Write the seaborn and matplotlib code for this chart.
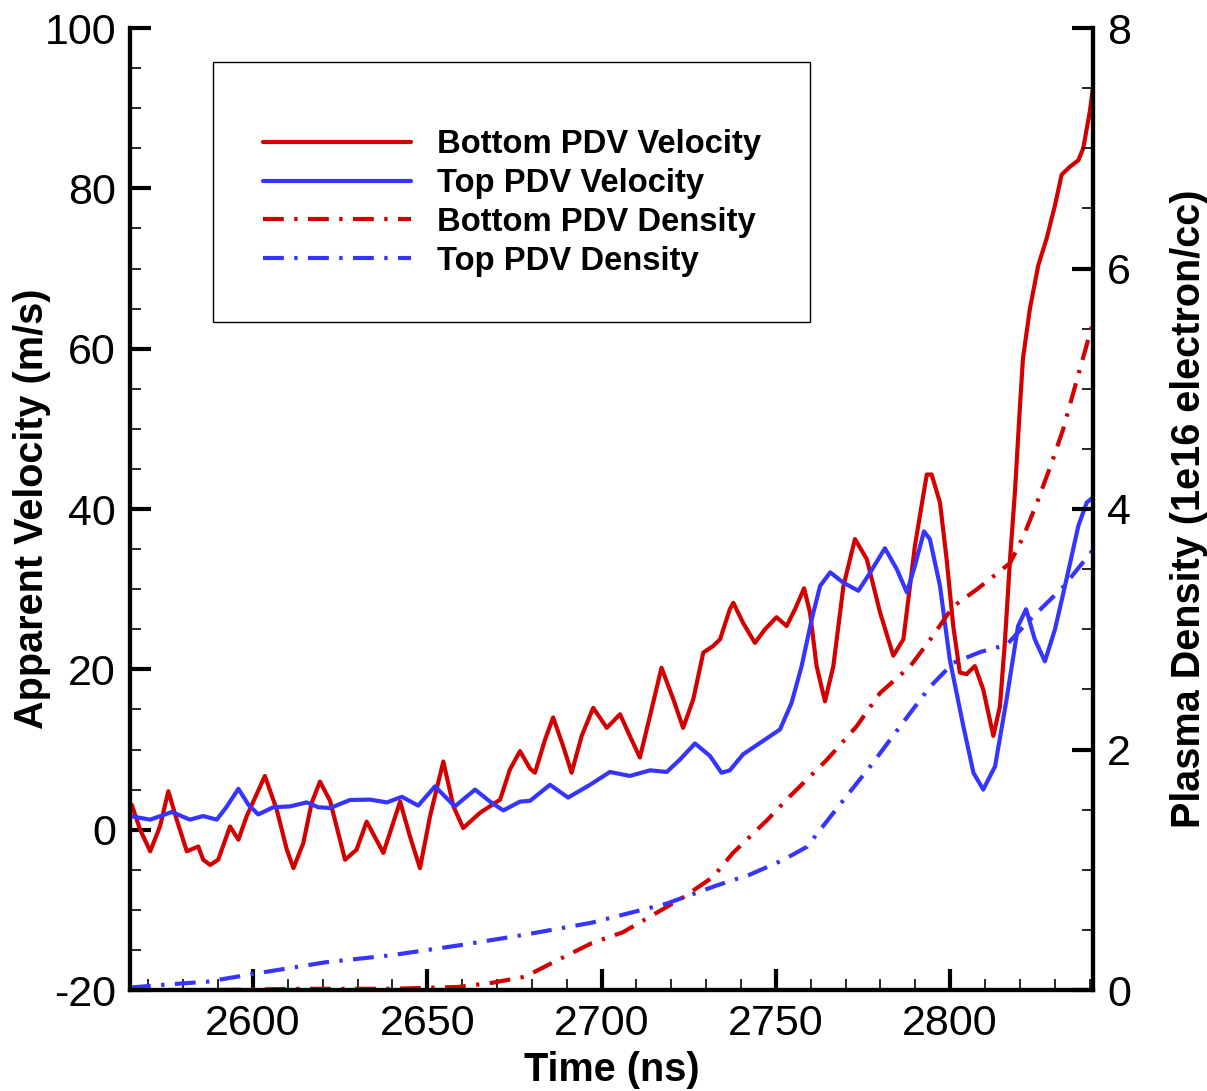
import numpy as np
import seaborn as sns
from matplotlib import pyplot as plt
from matplotlib.patches import Rectangle
from matplotlib.ticker import MultipleLocator

# Bottom PDV velocity (m/s)
bot_vel_t = [2565.2, 2567.6, 2570.5, 2573.3, 2575.7, 2578.1, 2581.0, 2584.3, 2585.7, 2587.7,
             2590.0, 2593.4, 2595.8, 2598.2, 2603.4, 2606.8, 2609.7, 2611.6, 2614.4, 2616.8,
             2619.2, 2622.1, 2626.4, 2629.7, 2632.6, 2637.4, 2642.2, 2645.0, 2647.9, 2650.8,
             2654.6, 2657.5, 2660.3, 2665.1, 2670.9, 2673.7, 2676.6, 2679.5, 2680.9, 2683.8,
             2686.1, 2689.0, 2691.4, 2694.3, 2697.6, 2701.5, 2705.3, 2708.1, 2711.0, 2713.9,
             2717.2, 2720.6, 2723.4, 2726.3, 2729.2, 2732.0, 2734.0, 2736.8, 2737.8, 2740.6,
             2744.0, 2746.9, 2750.2, 2753.1, 2755.5, 2758.1, 2759.8, 2761.7, 2764.1, 2766.5,
             2769.4, 2772.7, 2776.1, 2779.9, 2783.7, 2786.6, 2789.9, 2793.3, 2794.7, 2797.1,
             2799.0, 2800.9, 2802.8, 2804.7, 2807.1, 2809.5, 2812.4, 2814.3, 2815.7, 2817.2,
             2818.6, 2820.0, 2820.9, 2822.9, 2825.3, 2827.7, 2830.1, 2832.0, 2834.4, 2836.8,
             2838.2, 2840.1, 2841.2]
bot_vel = [3.1, 0.0, -2.7, 0.4, 4.8, 1.25, -2.7, -2.1, -3.75, -4.4,
           -3.75, 0.4, -1.25, 1.7, 6.7, 2.5, -2.5, -4.8, -1.7, 3.3,
           6.0, 3.6, -3.75, -2.5, 1.0, -2.9, 3.5, -0.8, -4.8, 1.7,
           8.5, 2.9, 0.2, 2.1, 3.75, 7.5, 9.8, 7.6, 7.1, 11.25,
           14.0, 10.4, 7.1, 11.7, 15.2, 12.7, 14.4, 11.7, 9.0, 14.2,
           20.2, 16.25, 12.7, 16.25, 22.1, 22.9, 23.75, 27.5, 28.3, 25.8,
           23.3, 25.0, 26.5, 25.4, 27.5, 30.1, 27.1, 20.4, 16.0, 20.4,
           30.4, 36.25, 33.75, 27.1, 21.7, 23.75, 35.4, 44.3, 44.3, 40.8,
           33.75, 25.4, 19.6, 19.4, 20.4, 17.5, 11.7, 15.4, 23.3, 33.75,
           42.1, 52.5, 58.75, 65.0, 70.4, 73.75, 77.9, 81.7, 82.7, 83.5,
           85.0, 89.6, 93.3]

# Top PDV velocity (m/s)
top_vel_t = [2564.7, 2570.5, 2576.7, 2581.9, 2585.7, 2589.6, 2592.5, 2595.8, 2598.7, 2601.5,
             2605.8, 2610.6, 2615.4, 2618.7, 2622.1, 2627.8, 2633.6, 2638.4, 2642.7, 2647.4,
             2652.2, 2657.9, 2663.7, 2668.0, 2671.8, 2676.6, 2679.5, 2685.2, 2690.4, 2696.7,
             2702.4, 2708.1, 2713.9, 2718.7, 2722.5, 2726.8, 2731.1, 2734.4, 2736.8, 2740.6,
             2745.4, 2751.2, 2754.5, 2757.4, 2760.3, 2762.7, 2765.6, 2769.4, 2773.7, 2777.1,
             2781.3, 2784.7, 2787.6, 2789.9, 2792.5, 2794.2, 2797.1, 2799.9, 2803.8, 2806.7,
             2809.5, 2812.9, 2816.2, 2819.5, 2821.8, 2824.3, 2827.2, 2830.1, 2833.4, 2836.8,
             2839.2, 2841.1]
top_vel = [1.7, 1.25, 2.2, 1.25, 1.7, 1.25, 2.9, 5.1, 3.1, 1.9,
           2.8, 2.9, 3.4, 2.8, 2.7, 3.7, 3.75, 3.4, 4.1, 3.0,
           5.4, 2.9, 5.0, 3.5, 2.4, 3.5, 3.6, 5.6, 4.0, 5.6,
           7.2, 6.7, 7.4, 7.2, 8.75, 10.75, 9.2, 7.1, 7.4, 9.4,
           10.8, 12.5, 15.8, 20.4, 26.25, 30.4, 32.1, 30.8, 29.8, 32.1,
           35.1, 32.5, 29.6, 32.9, 37.2, 36.25, 30.4, 21.25, 12.9, 7.1,
           5.0, 7.9, 16.25, 25.4, 27.5, 23.75, 21.0, 25.0, 31.25, 37.9,
           40.8, 41.5]

# Bottom PDV density (1e16 electron/cc)
bot_den_t = [2564.7, 2590.0, 2613.5, 2640.0, 2658.8, 2668.6, 2678.0, 2687.5, 2697.2, 2706.1,
             2713.9, 2723.4, 2732.0, 2737.7, 2747.4, 2754.0, 2764.5, 2773.1, 2779.9, 2788.5,
             2794.2, 2800.9, 2807.6, 2817.2, 2821.0, 2824.9, 2829.1, 2832.4, 2837.2, 2841.0]
bot_den = [0.0, 0.0, 0.01, 0.01, 0.025, 0.06, 0.11, 0.25, 0.39, 0.48,
           0.61, 0.77, 0.94, 1.14, 1.41, 1.61, 1.91, 2.19, 2.47, 2.69,
           2.91, 3.19, 3.33, 3.55, 3.77, 4.05, 4.38, 4.66, 5.16, 5.55]

# Top PDV density (1e16 electron/cc)
top_den_t = [2564.7, 2572.7, 2587.1, 2601.4, 2620.7, 2639.9, 2658.8, 2678.0, 2697.2, 2718.8,
             2733.1, 2742.6, 2752.0, 2758.9, 2769.4, 2777.1, 2785.6, 2794.2, 2800.9, 2808.6,
             2816.2, 2822.9, 2832.4, 2841.0]
top_den = [0.02, 0.04, 0.07, 0.14, 0.23, 0.29, 0.37, 0.46, 0.56, 0.72,
           0.87, 0.96, 1.08, 1.19, 1.58, 1.86, 2.19, 2.52, 2.72, 2.81,
           2.87, 3.08, 3.35, 3.66]

red = "#d40000"
blue = "#3535ff"
dashdot = (0, (5, 2.5, 0.8, 2.5))

sns.set_style("ticks")
plt.rcParams['font.family'] = ['Liberation Sans', 'DejaVu Sans']
plt.rcParams['axes.unicode_minus'] = False

fig = plt.figure(figsize=(12.07, 10.91), dpi=100)
ax = fig.add_axes([130 / 1207, 1 - 990 / 1091, 963 / 1207, 962 / 1091])
ax2 = ax.twinx()

sns.lineplot(x=bot_vel_t, y=bot_vel, ax=ax, color=red, lw=3, label="Bottom PDV Velocity",
             solid_joinstyle="round")
sns.lineplot(x=top_vel_t, y=top_vel, ax=ax, color=blue, lw=3, label="Top PDV Velocity",
             solid_joinstyle="round")
sns.lineplot(x=bot_den_t, y=bot_den, ax=ax2, color=red, lw=3, linestyle=dashdot,
             label="Bottom PDV Density")
sns.lineplot(x=top_den_t, y=top_den, ax=ax2, color=blue, lw=3, linestyle=dashdot,
             label="Top PDV Density")

for a in (ax, ax2):
    if a.get_legend() is not None:
        a.get_legend().remove()

ax.set_xlim(2564.7, 2841.0)
ax.set_ylim(-20, 100)
ax2.set_ylim(0, 8)

ax.xaxis.set_major_locator(MultipleLocator(50))
ax.xaxis.set_minor_locator(MultipleLocator(10))
ax.yaxis.set_major_locator(MultipleLocator(20))
ax.yaxis.set_minor_locator(MultipleLocator(5))
ax2.yaxis.set_major_locator(MultipleLocator(2))
ax2.yaxis.set_minor_locator(MultipleLocator(0.5))

for a in (ax, ax2):
    for side in ("left", "right", "bottom"):
        a.spines[side].set_linewidth(3)
        a.spines[side].set_color("black")
    a.spines["top"].set_visible(False)
    a.tick_params(which="major", direction="in", length=15, width=3, labelsize=31,
                  colors="black", pad=10)
    a.tick_params(which="minor", direction="in", length=8, width=1.2, colors="black")

ax.tick_params(axis="y", which="both", left=True, right=False)
ax.tick_params(axis="x", which="both", top=False)
ax2.tick_params(axis="y", which="both", right=True, left=False)

lab = dict(fontsize=28.5, fontweight="bold", color="black")
ax.set_xlabel("Time (ns)", **lab)
ax.set_ylabel("Apparent Velocity (m/s)", **lab)
ax2.set_ylabel("Plasma Density (1e16 electron/cc)", **lab)
ax.xaxis.set_label_coords(0.5, -0.063)
ax.yaxis.set_label_coords(-0.082, 0.5)
ax2.yaxis.set_label_coords(1.08, 0.5)

# legend box
fig.patches.append(Rectangle((213 / 1207, 1 - 322 / 1091), 597 / 1207, 260 / 1091,
                             transform=fig.transFigure, fill=False, edgecolor="black",
                             lw=1, zorder=5))
handles = ax.get_lines() + ax2.get_lines()
leg = fig.legend(handles=handles, labels=[h.get_label() for h in handles],
                 loc="center left", bbox_to_anchor=(263 / 1207, 1 - 203 / 1091),
                 frameon=False, borderpad=0, borderaxespad=0, handlelength=4.5,
                 handletextpad=0.8, labelspacing=0.24,
                 prop={"family": "Liberation Sans", "weight": "bold", "size": 23.6})
for t in leg.get_texts():
    t.set_color("black")

fig.savefig("out.png", dpi=100)
